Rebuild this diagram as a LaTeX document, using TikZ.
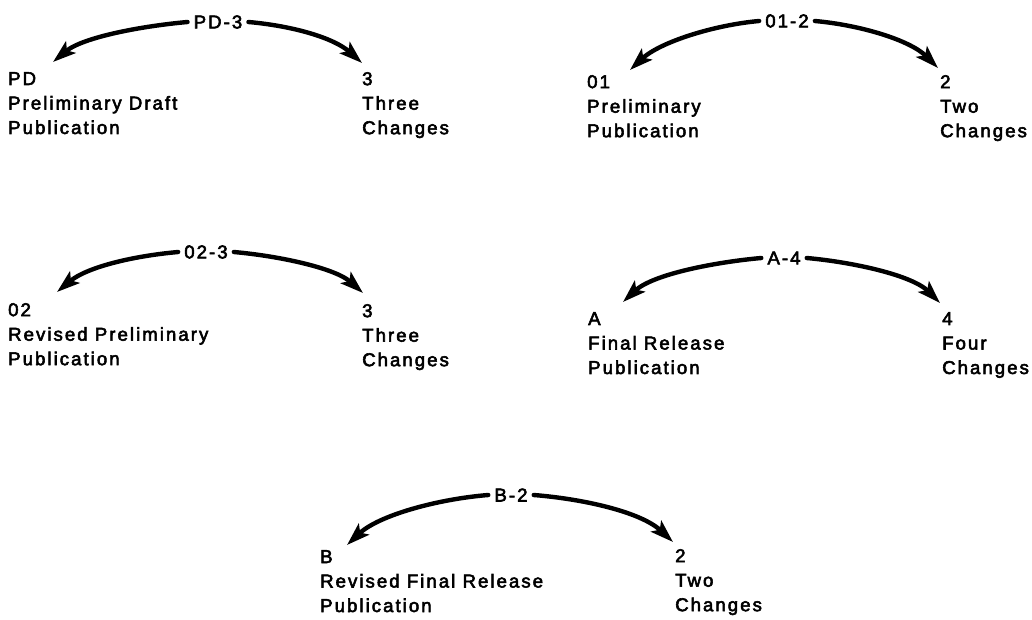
\documentclass[tikz,border=0pt]{standalone}
\usepackage{fontspec}
\setmainfont{Liberation Sans}[FakeBold=3,LetterSpace=11]
\usetikzlibrary{arrows.meta}
\begin{document}
\begin{tikzpicture}[x=1pt,y=-1pt,
  lbl/.style={inner xsep=6pt,inner ysep=0pt,font=\fontsize{18.6}{24.5}\selectfont},
  txt/.style={anchor=north west,inner sep=0pt,align=left,font=\fontsize{18.6}{24.5}\selectfont},
  arr/.style={line width=4.4pt,line cap=round,-{Stealth[length=23pt,width=15pt,inset=5pt]}}]
\useasboundingbox (0,0) rectangle (1032,620);
% group 1
\node[lbl] (g1) at (218,22) {PD-3};
\node[txt] (g1l) at (8,72) {PD\\Preliminary Draft\\Publication};
\node[txt] (g1r) at (362,72) {3\\Three\\Changes};
\coordinate (g1a) at (53,62);
\coordinate (g1b) at (362,63);
\draw[arr] (g1.west) .. controls +(-45,4) and +(30,-25) .. (g1a);
\draw[arr] (g1.east) .. controls +(45,4) and +(-28,-25) .. (g1b);
% group 2
\node[lbl] (g2) at (787,21) {01-2};
\node[txt] (g2l) at (587,75) {01\\Preliminary\\Publication};
\node[txt] (g2r) at (940,75) {2\\Two\\Changes};
\coordinate (g2a) at (630,70);
\coordinate (g2b) at (938,68);
\draw[arr] (g2.west) .. controls +(-45,4) and +(30,-28) .. (g2a);
\draw[arr] (g2.east) .. controls +(45,4) and +(-28,-28) .. (g2b);
% group 3
\node[lbl] (g3) at (206,252) {02-3};
\node[txt] (g3l) at (8,303) {02\\Revised Preliminary\\Publication};
\node[txt] (g3r) at (362,304) {3\\Three\\Changes};
\coordinate (g3a) at (57,292);
\coordinate (g3b) at (363,293);
\draw[arr] (g3.west) .. controls +(-45,4) and +(30,-25) .. (g3a);
\draw[arr] (g3.east) .. controls +(45,4) and +(-28,-25) .. (g3b);
% group 4
\node[lbl] (g4) at (784,258) {A-4};
\node[txt] (g4l) at (588,312) {A\\Final Release\\Publication};
\node[txt] (g4r) at (942,312) {4\\Four\\Changes};
\coordinate (g4a) at (623,302);
\coordinate (g4b) at (940,303);
\draw[arr] (g4.west) .. controls +(-45,4) and +(30,-28) .. (g4a);
\draw[arr] (g4.east) .. controls +(45,4) and +(-28,-28) .. (g4b);
% group 5
\node[lbl] (g5) at (511,495) {B-2};
\node[txt] (g5l) at (320,550) {B\\Revised Final Release\\Publication};
\node[txt] (g5r) at (675,549) {2\\Two\\Changes};
\coordinate (g5a) at (347,545);
\coordinate (g5b) at (673,542);
\draw[arr] (g5.west) .. controls +(-50,4) and +(32,-30) .. (g5a);
\draw[arr] (g5.east) .. controls +(50,4) and +(-32,-30) .. (g5b);
\end{tikzpicture}
\end{document}
